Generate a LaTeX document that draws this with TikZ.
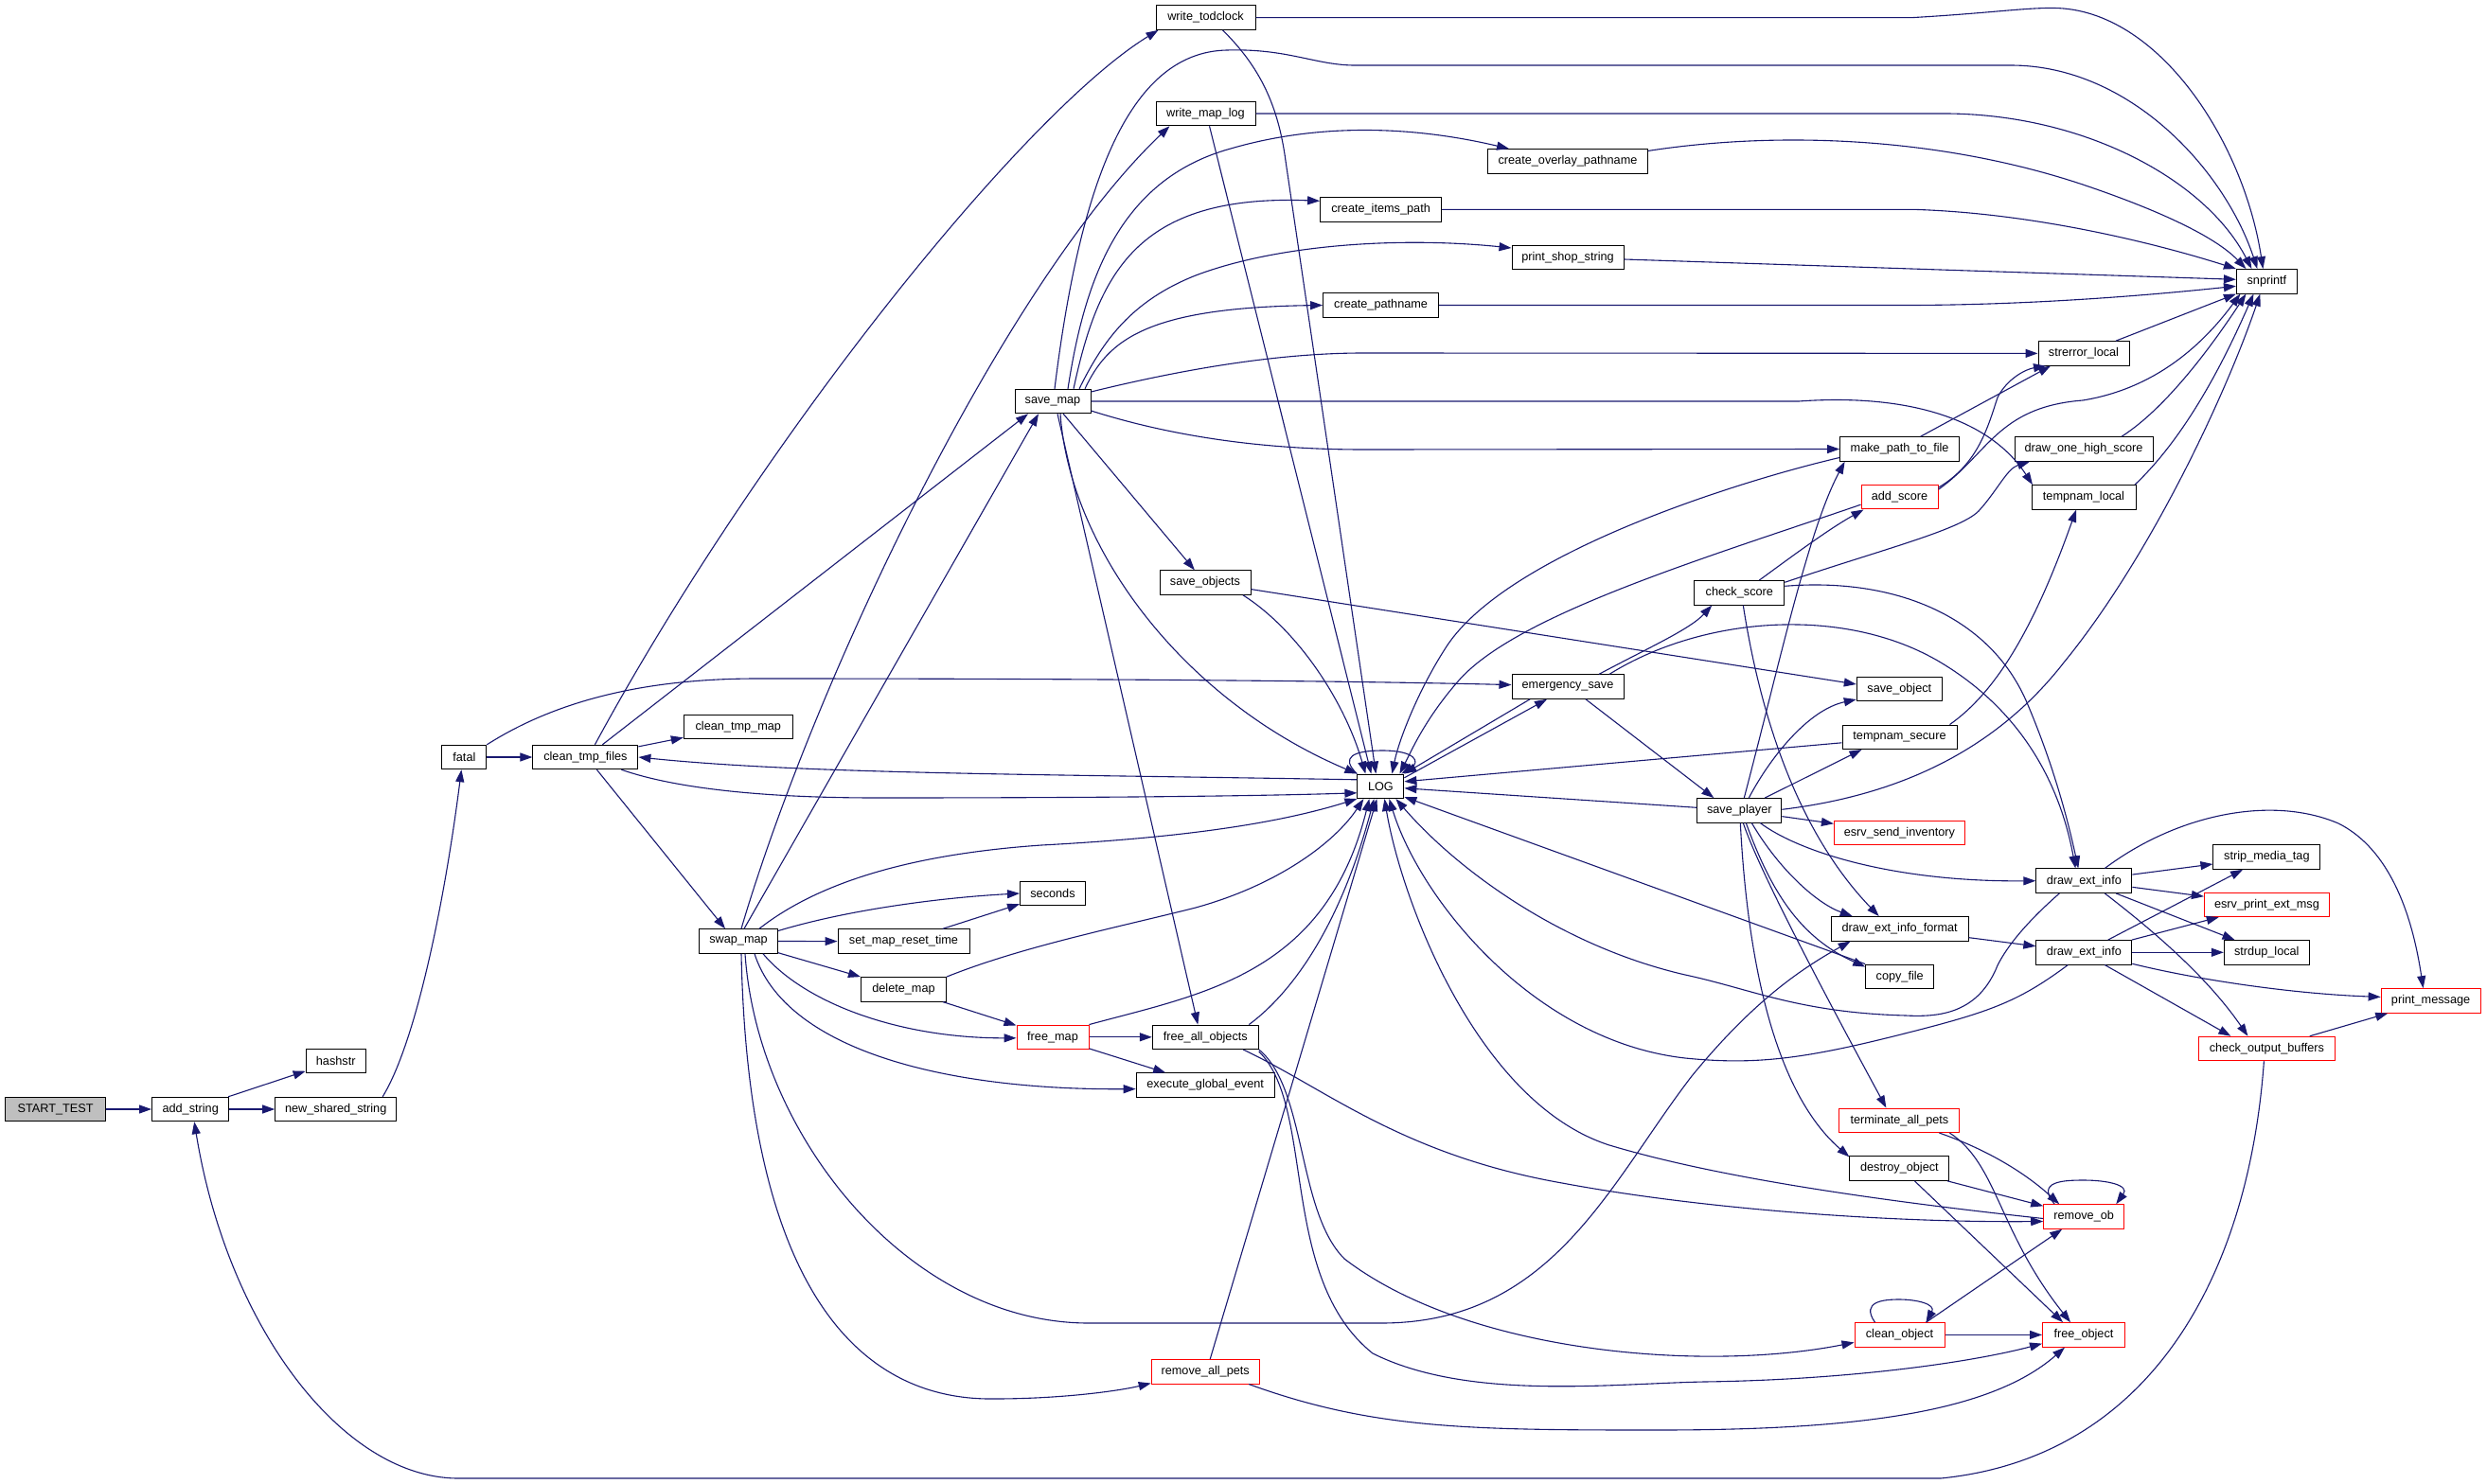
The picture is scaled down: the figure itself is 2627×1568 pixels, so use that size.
\documentclass[tikz,border=0pt]{standalone}
\usepackage{fontspec}
\setmainfont{Liberation Sans}
\usetikzlibrary{arrows.meta}
\definecolor{edgec}{HTML}{191970}
\definecolor{startfill}{HTML}{BFBFBF}
\begin{document}
\begin{tikzpicture}[x=1pt,y=-1pt,
  nd/.style={draw=black, line width=1pt, fill=white, minimum height=25.5pt, inner sep=0pt, text=black, font=\fontsize{12.7pt}{15pt}\selectfont},
  rd/.style={nd, draw=red},
  e/.style={draw=edgec, line width=1.1pt, -{Triangle[length=13pt,width=9pt]}}]
\fill[white] (0,0) rectangle (2627,1568);
\useasboundingbox (0,0) rectangle (2627,1568);
% nodes
\node[nd, fill=startfill, minimum width=106pt] (starttest) at (58.6,1172) {START\_TEST};
\node[nd, minimum width=81.4pt] (addstring) at (201.2,1172) {add\_string};
\node[nd, minimum width=128pt] (newshared) at (354.7,1172) {new\_shared\_string};
\node[nd, minimum width=63pt] (hashstr) at (354.7,1121.2) {hashstr};
\node[nd, minimum width=47pt] (fatal) at (490.4,800) {fatal};
\node[nd, minimum width=111pt] (cleantmpfiles) at (618.4,800) {clean\_tmp\_files};
\node[nd, minimum width=115pt] (cleantmpmap) at (779.8,767.8) {clean\_tmp\_map};
\node[nd, minimum width=83pt] (swapmap) at (780,994.5) {swap\_map};
\node[nd, minimum width=80pt] (savemap) at (1112,424) {save\_map};
\node[nd, minimum width=105pt] (writetod) at (1273.5,18.6) {write\_todclock};
\node[nd, minimum width=105pt] (writemaplog) at (1273.5,120) {write\_map\_log};
\node[nd, minimum width=169pt] (overlay) at (1656,170.4) {create\_overlay\_pathname};
\node[nd, minimum width=128pt] (itemspath) at (1458.6,221.3) {create\_items\_path};
\node[nd, minimum width=118pt] (printshop) at (1656,272) {print\_shop\_string};
\node[nd, minimum width=122pt] (pathname) at (1458.6,322.5) {create\_pathname};
\node[nd, minimum width=64pt] (snprintf) at (2394.4,297.3) {snprintf};
\node[nd, minimum width=96pt] (strerror) at (2201,373.4) {strerror\_local};
\node[nd, minimum width=126pt] (makepath) at (2006.6,474.5) {make\_path\_to\_file};
\node[nd, minimum width=146pt] (drawone) at (2201,474.5) {draw\_one\_high\_score};
\node[rd, minimum width=81pt] (addscore) at (2006.5,525.2) {add\_score};
\node[nd, minimum width=110pt] (tempnamlocal) at (2201,525.4) {tempnam\_local};
\node[nd, minimum width=96pt] (saveobjects) at (1273,615.6) {save\_objects};
\node[nd, minimum width=118pt] (emergency) at (1656,725.6) {emergency\_save};
\node[nd, minimum width=49pt] (LOG) at (1458.4,830.8) {LOG};
\node[nd, minimum width=95pt] (checkscore) at (1837.3,626.3) {check\_score};
\node[nd, minimum width=90pt] (saveobject) at (2006.3,728) {save\_object};
\node[nd, minimum width=121pt] (tempnamsecure) at (2006.5,778.8) {tempnam\_secure};
\node[nd, minimum width=89pt] (saveplayer) at (1837.3,856.3) {save\_player};
\node[rd, minimum width=138pt] (esrvsend) at (2006.4,880) {esrv\_send\_inventory};
\node[nd, minimum width=113pt] (strip) at (2394.4,905.6) {strip\_media\_tag};
\node[nd, minimum width=101pt] (deiA) at (2201.3,930.7) {draw\_ext\_info};
\node[rd, minimum width=132pt] (esrvprint) at (2394.4,955.8) {esrv\_print\_ext\_msg};
\node[nd, minimum width=145pt] (deiformat) at (2006.7,981.3) {draw\_ext\_info\_format};
\node[nd, minimum width=101pt] (deiB) at (2201.3,1006.3) {draw\_ext\_info};
\node[nd, minimum width=90pt] (strdup) at (2394.3,1006.3) {strdup\_local};
\node[nd, minimum width=72pt] (copyfile) at (2006.7,1031.8) {copy\_file};
\node[rd, minimum width=105pt] (printmsg) at (2567.6,1057.4) {print\_message};
\node[nd, minimum width=69pt] (seconds) at (1112,944) {seconds};
\node[nd, minimum width=139pt] (setmap) at (954.5,994.6) {set\_map\_reset\_time};
\node[nd, minimum width=90pt] (deletemap) at (954.5,1045.3) {delete\_map};
\node[rd, minimum width=76pt] (freemap) at (1112,1095.8) {free\_map};
\node[nd, minimum width=112pt] (freeall) at (1273.3,1095.8) {free\_all\_objects};
\node[nd, minimum width=146pt] (execglobal) at (1273.2,1146.6) {execute\_global\_event};
\node[rd, minimum width=114pt] (removeallpets) at (1273.2,1449.3) {remove\_all\_pets};
\node[rd, minimum width=144pt] (checkout) at (2394.4,1108) {check\_output\_buffers};
\node[rd, minimum width=127pt] (terminate) at (2006.4,1183.8) {terminate\_all\_pets};
\node[nd, minimum width=105pt] (destroy) at (2006.4,1234.6) {destroy\_object};
\node[rd, minimum width=85pt] (removeob) at (2201.2,1285.5) {remove\_ob};
\node[rd, minimum width=95pt] (cleanobject) at (2006.5,1410.4) {clean\_object};
\node[rd, minimum width=87pt] (freeobject) at (2201,1410.4) {free\_object};
% edges
\draw[e] (starttest) -- (addstring);
\draw[e] (addstring) -- (hashstr);
\draw[e] (addstring) -- (newshared);
\draw[e] ([xshift=-15pt]newshared.north east) .. controls (440,1100) and (470,950) .. ([xshift=-3pt]fatal.south);
\draw[e] (fatal) -- (cleantmpfiles);
\draw[e] (fatal.north east) .. controls (580,745) and (670,717) .. (800,717) .. controls (1200,717) and (1450,720) .. ([yshift=2pt]emergency.west);
\draw[e] (cleantmpfiles) -- (cleantmpmap);
\draw[e] ([xshift=12pt]cleantmpfiles.south) -- ([xshift=-14pt]swapmap.north);
\draw[e] ([xshift=10pt]cleantmpfiles.north) .. controls (800,470) and (1080,120) .. ([xshift=-50pt]writetod.south);
\draw[e] ([xshift=18pt]cleantmpfiles.north) -- ([xshift=-26pt]savemap.south);
\draw[e] ([xshift=38pt]cleantmpfiles.south) .. controls (710,832) and (800,843) .. (926,843) .. controls (1100,843) and (1300,842) .. ([yshift=-7pt]LOG.west);
\draw[e] ([yshift=7pt]LOG.west) .. controls (1100,818) and (850,818) .. (cleantmpfiles.east);
% swap_map
\draw[e] ([xshift=6pt]swapmap.north) -- ([xshift=-15pt]savemap.south);
\draw[e] ([xshift=3pt]swapmap.north) .. controls (860,720) and (1060,300) .. ([xshift=-38pt]writemaplog.south);
\draw[e] ([xshift=22pt]swapmap.north) .. controls (880,920) and (1000,900) .. (1100,893) .. controls (1250,885) and (1350,870) .. (LOG.south west);
\draw[e] ([yshift=11pt]swapmap.east) .. controls (900,960) and (1000,948) .. (seconds.west);
\draw[e] (swapmap) -- (setmap);
\draw[e] (swapmap) -- (deletemap);
\draw[e] ([xshift=26pt]swapmap.south) .. controls (850,1060) and (950,1097) .. ([yshift=-1pt]freemap.west);
\draw[e] ([xshift=17pt]swapmap.south) .. controls (830,1110) and (1000,1152) .. ([yshift=-4pt]execglobal.west);
\draw[e] ([xshift=7pt]swapmap.south) .. controls (800,1200) and (960,1398) .. (1150,1398) -- (1459,1398) .. controls (1640,1398) and (1700,1250) .. (1787,1137) .. controls (1850,1060) and (1900,1025) .. ([xshift=-52pt]deiformat.south);
\draw[e] ([xshift=3pt]swapmap.south) .. controls (790,1350) and (900,1480) .. (1050,1478) .. controls (1120,1478) and (1180,1470) .. ([yshift=1pt]removeallpets.south west);
% save_map
\draw[e] ([xshift=2pt]savemap.north) .. controls (1140,200) and (1190,55) .. (1296,53) .. controls (1360,51) and (1390,69) .. (1431,69) -- (2124,69) .. controls (2250,69) and (2350,180) .. ([xshift=-10pt]snprintf.north);
\draw[e] ([xshift=16pt]savemap.north) .. controls (1145,300) and (1180,190) .. (1300,157) .. controls (1400,128) and (1500,135) .. ([xshift=-62pt]overlay.north);
\draw[e] ([xshift=22pt]savemap.north) .. controls (1160,290) and (1200,205) .. ([yshift=9pt]itemspath.west);
\draw[e] ([xshift=28pt]savemap.north) .. controls (1165,360) and (1195,318) .. (1263,291) .. controls (1350,258) and (1480,250) .. ([yshift=10pt]printshop.west);
\draw[e] ([xshift=34pt]savemap.north) .. controls (1170,360) and (1210,325) .. (pathname.west);
\draw[e] ([yshift=10pt]savemap.east) .. controls (1250,390) and (1350,373) .. (1440,373) -- (strerror.west);
\draw[e] (savemap.east) -- (1900,424) .. controls (2010,416) and (2100,440) .. ([xshift=-54pt]tempnamlocal.north);
\draw[e] ([yshift=-10pt]savemap.east) .. controls (1250,465) and (1350,475) .. (1440,475) -- (makepath.west);
\draw[e] (savemap) -- (saveobjects);
\draw[e] ([xshift=8pt]savemap.south) .. controls (1130,580) and (1250,740) .. (LOG.north west);
\draw[e] ([xshift=5pt]savemap.south) -- ([xshift=-8pt]freeall.north);
% top right
\draw[e] (writetod.east) -- (2020,18.6) .. controls (2100,14) and (2140,8) .. (2170,8.5) .. controls (2280,10) and (2370,150) .. ([xshift=-4pt]snprintf.north);
\draw[e] ([xshift=18pt]writetod.south) .. controls (1330,70) and (1350,110) .. (1358,170) -- ([xshift=-5pt]LOG.north);
\draw[e] (writemaplog.east) -- (2050,120) .. controls (2200,119) and (2330,190) .. ([xshift=-16pt]snprintf.north);
\draw[e] ([xshift=4pt]writemaplog.south) -- ([xshift=-10pt]LOG.north);
\draw[e] ([yshift=11pt]overlay.east) .. controls (1880,138) and (2050,145) .. (2200,195) .. controls (2280,222) and (2340,250) .. ([xshift=-22pt]snprintf.north);
\draw[e] (itemspath.east) -- (2020,221.3) .. controls (2150,225) and (2280,258) .. (snprintf.north west);
\draw[e] ([yshift=-2pt]printshop.east) -- ([yshift=2pt]snprintf.west);
\draw[e] (pathname.east) -- (2020,322.5) .. controls (2150,322) and (2270,312) .. ([yshift=-5pt]snprintf.west);
\draw[e] ([xshift=34pt]strerror.north) -- (snprintf.south west);
\draw[e] ([xshift=22pt]makepath.north) -- ([xshift=-35pt]strerror.south);
\draw[e] ([yshift=-9pt]makepath.west) .. controls (1850,505) and (1600,580) .. (1530,680) .. controls (1500,725) and (1478,780) .. ([xshift=12pt]LOG.north);
\draw[e] ([xshift=40pt]drawone.north) .. controls (2290,430) and (2340,360) .. ([xshift=-22pt]snprintf.south);
\draw[e] ([xshift=54pt]tempnamlocal.north) .. controls (2310,460) and (2350,380) .. ([xshift=-14pt]snprintf.south);
\draw[e] ([yshift=10pt]addscore.east) .. controls (2090,490) and (2100,450) .. (2110,420) .. controls (2120,400) and (2140,390) .. ([xshift=-40pt]strerror.south);
\draw[e] ([yshift=8pt]addscore.east) .. controls (2100,480) and (2110,430) .. (2200,423) .. controls (2280,410) and (2330,360) .. ([xshift=-28pt]snprintf.south);
\draw[e] ([yshift=-8pt]addscore.west) .. controls (1800,590) and (1600,650) .. (1540,720) .. controls (1505,760) and (1490,795) .. ([xshift=20pt]LOG.north);
% check_score
\draw[e] ([xshift=21pt]checkscore.north) .. controls (1890,590) and (1930,560) .. ([xshift=3pt]addscore.south west);
\draw[e] ([yshift=11pt]checkscore.east) .. controls (1990,580) and (2070,560) .. (2090,540) .. controls (2110,518) and (2120,495) .. ([xshift=-57pt]drawone.south);
\draw[e] ([yshift=7pt]checkscore.east) .. controls (2000,610) and (2100,650) .. (2140,740) .. controls (2170,810) and (2185,870) .. ([xshift=-6pt]deiA.north);
\draw[e] ([xshift=4pt]checkscore.south) .. controls (1860,760) and (1900,880) .. ([xshift=-22pt]deiformat.north);
% save_objects
\draw[e] ([xshift=40pt]saveobjects.south) .. controls (1370,665) and (1420,740) .. ([xshift=-16pt]LOG.north);
\draw[e] ([yshift=-7pt]saveobjects.east) -- ([yshift=5pt]saveobject.west);
% emergency_save
\draw[e] ([xshift=-40pt]emergency.south) -- (LOG.north east);
\draw[e] ([yshift=9pt]LOG.east) -- ([xshift=-22pt]emergency.south);
\draw[e] ([xshift=33pt]emergency.north) .. controls (1740,685) and (1785,665) .. ([xshift=-29pt]checkscore.south);
\draw[e] ([xshift=44pt]emergency.north) .. controls (1800,650) and (1950,640) .. (2050,700) .. controls (2150,760) and (2180,850) .. ([xshift=-9pt]deiA.north);
\draw[e] ([xshift=19pt]emergency.south) -- ([xshift=-27pt]saveplayer.north);
% LOG inputs from right
\draw[e] ([yshift=-6pt]tempnamsecure.west) -- ([yshift=5pt]LOG.east);
\draw[e] ([yshift=3pt]saveplayer.west) -- ([yshift=-2pt]LOG.east);
\draw[e] (copyfile.north west) -- ([yshift=2pt]LOG.south east);
\draw[e] ([xshift=53pt]tempnamsecure.north) .. controls (2110,730) and (2150,660) .. ([xshift=-8pt]tempnamlocal.south);
% save_player
\draw[e] ([xshift=10pt]saveplayer.north) .. controls (1870,800) and (1910,750) .. ([yshift=-11pt]saveobject.west);
\draw[e] ([xshift=27pt]saveplayer.north) -- ([xshift=-40pt]tempnamsecure.south);
\draw[e] ([xshift=5pt]saveplayer.north) .. controls (1880,700) and (1910,560) .. ([xshift=-58pt]makepath.south);
\draw[e] ([yshift=1pt]saveplayer.east) .. controls (2010,840) and (2110,790) .. (2180,700) .. controls (2270,590) and (2350,420) .. ([xshift=-7pt]snprintf.south);
\draw[e] (saveplayer) -- (esrvsend);
\draw[e] ([xshift=22pt]saveplayer.south) .. controls (1900,900) and (2000,932) .. (deiA.west);
\draw[e] ([xshift=13pt]saveplayer.south) .. controls (1880,920) and (1920,955) .. ([xshift=-50pt]deiformat.north);
\draw[e] ([xshift=7pt]saveplayer.south) .. controls (1870,940) and (1900,990) .. ([yshift=-3pt]copyfile.north west);
\draw[e] ([xshift=4pt]saveplayer.south) .. controls (1855,910) and (1900,1000) .. ([xshift=-14pt]terminate.north);
\draw[e] ([xshift=1pt]saveplayer.south) .. controls (1845,1000) and (1870,1150) .. ([yshift=-1pt]destroy.north west);
% draw_ext_info
\draw[e] (deiformat) -- (deiB);
\draw[e] (deiA) -- (strip);
\draw[e] (deiA) -- (esrvprint);
\draw[e] (deiA) -- (strdup);
\draw[e] ([xshift=22pt]deiA.south) .. controls (2270,980) and (2330,1030) .. ([xshift=-20pt]checkout.north);
\draw[e] ([xshift=22pt]deiA.north) .. controls (2300,860) and (2400,840) .. (2470,870) .. controls (2530,900) and (2550,980) .. ([xshift=-8pt]printmsg.north);
\draw[e] ([xshift=-26pt]deiA.south) .. controls (2140,975) and (2120,1000) .. (2110,1020) .. controls (2090,1070) and (2050,1075) .. (2013,1073) .. controls (1900,1070) and (1850,1045) .. (1780,1030) .. controls (1650,1000) and (1540,920) .. ([xshift=-9pt]LOG.south east);
\draw[e] (deiB) -- (strip);
\draw[e] (deiB) -- (esrvprint);
\draw[e] (deiB) -- (strdup);
\draw[e] ([yshift=-12pt]deiB.east) .. controls (2320,1035) and (2420,1050) .. ([yshift=4pt]printmsg.west);
\draw[e] ([xshift=22pt]deiB.south) -- ([xshift=-38pt]checkout.north);
\draw[e] ([xshift=-17pt]deiB.south) .. controls (2130,1060) and (2100,1070) .. (2000,1095) .. controls (1900,1120) and (1850,1125) .. (1780,1118) .. controls (1620,1100) and (1500,950) .. ([xshift=-16pt]LOG.south east);
\draw[e] (checkout) -- (printmsg);
\draw[e] ([xshift=-3pt]checkout.south) .. controls (2375,1350) and (2270,1540) .. (2050,1562) -- (482,1562) .. controls (360,1560) and (240,1400) .. ([xshift=4pt]addstring.south);
% lower right
\draw[e] ([xshift=42pt]terminate.south) .. controls (2100,1215) and (2140,1240) .. ([xshift=-26pt]removeob.north);
\draw[e] ([xshift=53pt]terminate.south) .. controls (2110,1230) and (2110,1300) .. ([xshift=-14pt]freeobject.north);
\draw[e] (destroy) -- (removeob);
\draw[e] ([xshift=16pt]destroy.south) -- ([xshift=-22pt]freeobject.north);
\draw[e] ([xshift=-31pt]removeob.north) .. controls (2150,1248) and (2180,1247) .. (2201,1247) .. controls (2225,1247) and (2250,1252) .. ([xshift=34pt]removeob.north);
\draw[e] ([xshift=-26pt]cleanobject.north) .. controls (1965,1375) and (1990,1373) .. (2006,1373) .. controls (2025,1373) and (2045,1378) .. ([xshift=28pt]cleanobject.north);
\draw[e] ([xshift=28pt]cleanobject.north) -- ([xshift=-23pt]removeob.south);
\draw[e] (cleanobject) -- (freeobject);
\draw[e] ([yshift=-2pt]removeob.west) .. controls (1950,1265) and (1800,1240) .. (1700,1210) .. controls (1560,1165) and (1480,950) .. ([xshift=4pt]LOG.south);
% free_all_objects
\draw[e] ([xshift=40pt]freeall.south) .. controls (1400,1150) and (1480,1220) .. (1650,1250) .. controls (1800,1278) and (2000,1292) .. ([yshift=-5pt]removeob.west);
\draw[e] (freeall.south east) .. controls (1380,1150) and (1370,1280) .. (1420,1330) .. controls (1550,1430) and (1800,1450) .. ([yshift=-8pt]cleanobject.west);
\draw[e] ([yshift=-2pt]freeall.south east) .. controls (1390,1170) and (1350,1350) .. (1450,1430) .. controls (1550,1480) and (1700,1462) .. (1800,1460) .. controls (1950,1458) and (2080,1440) .. ([yshift=4pt]freeobject.south west);
\draw[e] ([xshift=46pt]freeall.north) .. controls (1350,1060) and (1410,1000) .. ([xshift=-7pt]LOG.south);
% free_map, delete_map, remove_all_pets
\draw[e] (freemap.north east) .. controls (1270,1050) and (1400,1030) .. ([xshift=-12pt]LOG.south);
\draw[e] (freemap) -- (freeall);
\draw[e] (freemap) -- (execglobal);
\draw[e] (deletemap) -- (freemap);
\draw[e] (deletemap.north east) .. controls (1080,1000) and (1180,980) .. (1263,959) .. controls (1350,935) and (1410,890) .. ([xshift=-18pt]LOG.south);
\draw[e] ([xshift=5pt]removeallpets.north) -- ([xshift=-4pt]LOG.south);
\draw[e] ([xshift=46pt]removeallpets.south) .. controls (1450,1510) and (1550,1511) .. (1750,1511) .. controls (1950,1511) and (2100,1495) .. ([xshift=-20pt]freeobject.south);
\draw[e] (setmap) -- (seconds);
% LOG self loop
\draw[e] (LOG.north west) .. controls (1415,800) and (1430,793) .. (1460,793) .. controls (1495,793) and (1500,805) .. ([xshift=-3pt]LOG.north east);
\end{tikzpicture}
\end{document}
